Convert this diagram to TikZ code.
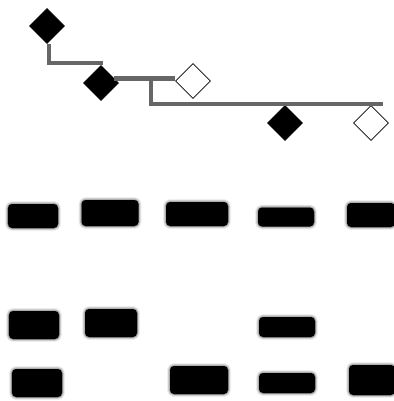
\documentclass[tikz,border=0pt]{standalone}
\usepackage{tikz}
\usetikzlibrary{positioning,shapes.geometric,shadows.blur,calc}

\begin{document}
\begin{tikzpicture}[
  x=1pt, y=-1pt,
  affected/.style={
    diamond, draw=black, fill=black, line width=0.8pt,
    minimum size=35pt, inner sep=0pt
  },
  unaffected/.style={
    diamond, draw=black, fill=white, line width=0.8pt,
    minimum size=35pt, inner sep=0pt
  },
  line/.style={draw=black!60, line width=4.4pt},
  band/.style={
    rectangle, rounded corners=4pt, fill=black, inner sep=0pt,
    blur shadow={shadow xshift=0pt, shadow yshift=0pt,
      shadow blur radius=3pt, shadow opacity=85}
  }
]
\useasboundingbox (0,0) rectangle (393,401);

% --- Generation I ---
\node[affected] (gen1) at (47,26) {};

% --- Generation II: couple ---
\node[affected] (gen2a) at (101,83) {};
\node[unaffected] (gen2b) at (193,81) {};

% --- Generation III: children ---
\node[affected] (gen3a) at (285,123) {};
\node[unaffected] (gen3b) at (371,123) {};

% --- Pedigree lines ---
\coordinate (desc1) at (49,63);
\coordinate (mate) at ($(gen2a.east)!0.25!(gen2a.north)$);
\coordinate (drop) at (151,79);
\coordinate (sibend) at (383,104);
\draw[line] (gen1.south -| desc1) -- (desc1) -| (gen2a.north);
\draw[line] (mate) -- (gen2b.west |- mate);
\draw[line] (drop |- mate) -- (drop |- sibend) -- (sibend);
\draw[line] (gen3a.north |- sibend) -- (gen3a.north);
\draw[line] (gen3b.north |- sibend) -- (gen3b.north);

% --- Gel bands ---
\foreach \row/\lane/\cx/\cy/\w/\h in {
    1/1/33/216/50/24, 1/2/110/213/57/26, 1/3/197/214/62/24,
    1/4/286/217/56/19, 1/5/371/215/48/24,
    2/1/34/325/50/28, 2/2/111/323/52/28, 2/4/287/327/56/20,
    3/1/37/383/50/28, 3/3/199/380/58/28, 3/4/287/383/56/20,
    3/5/372/380/46/30}
  \node[band, minimum width=\w pt, minimum height=\h pt]
    (band-\row-\lane) at (\cx,\cy) {};

\end{tikzpicture}
\end{document}
